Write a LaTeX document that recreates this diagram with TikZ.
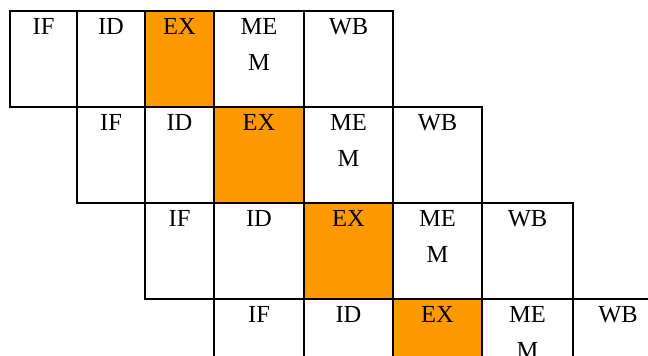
\documentclass[tikz,border=0pt]{standalone}
\usepackage{fontspec}
\setmainfont{Liberation Serif}
\definecolor{exorange}{HTML}{FF9900}
\tikzset{
 cellbox/.style={draw=black, line width=1.5pt, anchor=north west, inner sep=0pt, outer sep=0pt, minimum height=96pt},
 stage/.style={anchor=north, inner sep=0pt, align=center, font=\fontsize{24.5}{36}\selectfont},
}
\newcommand\pstage[6]{%
 \node[cellbox, minimum width={(#3-#2)*1pt}, fill=#5] (#1) at (#2,#4) {};
 \node[stage] (#1t) at ({(#2+#3)/2},{#4+7}) {#6};
}
\begin{document}
\begin{tikzpicture}[x=1pt,y=-1pt]
\useasboundingbox[fill=white] (0,0) rectangle (648,356);
\clip (0,0) rectangle (648,356);
% row 1
\pstage{aA}{10}{77}{11}{white}{IF}
\pstage{aB}{77}{145}{11}{white}{ID}
\pstage{aC}{145}{214}{11}{exorange}{EX}
\pstage{aD}{214}{304}{11}{white}{ME\\M}
\pstage{aE}{304}{393}{11}{white}{WB}
% row 2
\pstage{bA}{77}{145}{107}{white}{IF}
\pstage{bB}{145}{214}{107}{white}{ID}
\pstage{bC}{214}{304}{107}{exorange}{EX}
\pstage{bD}{304}{393}{107}{white}{ME\\M}
\pstage{bE}{393}{482}{107}{white}{WB}
% row 3
\pstage{cA}{145}{214}{203}{white}{IF}
\pstage{cB}{214}{304}{203}{white}{ID}
\pstage{cC}{304}{393}{203}{exorange}{EX}
\pstage{cD}{393}{482}{203}{white}{ME\\M}
\pstage{cE}{482}{573}{203}{white}{WB}
% row 4
\pstage{dA}{214}{304}{299}{white}{IF}
\pstage{dB}{304}{393}{299}{white}{ID}
\pstage{dC}{393}{482}{299}{exorange}{EX}
\pstage{dD}{482}{573}{299}{white}{ME\\M}
\pstage{dE}{573}{663}{299}{white}{WB}
\end{tikzpicture}
\end{document}
